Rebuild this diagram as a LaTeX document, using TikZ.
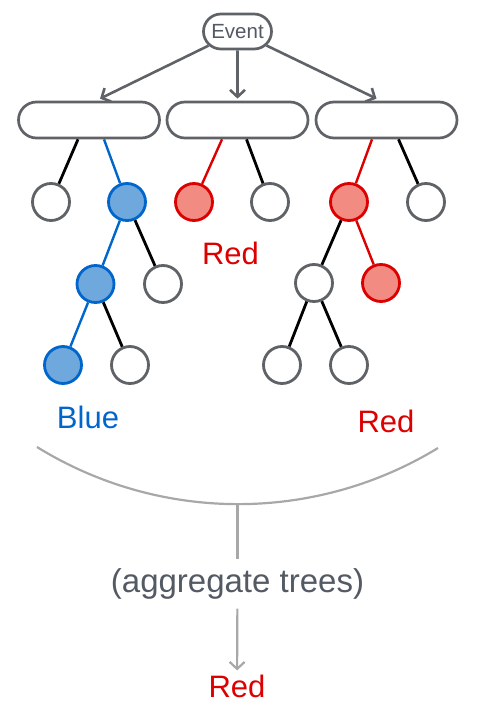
\documentclass[tikz,border=0pt]{standalone}
\usepackage{fontspec}
\setmainfont{Liberation Sans}
\usetikzlibrary{arrows.meta,calc,shapes.misc}
\definecolor{outl}{HTML}{5F6368}
\definecolor{txtgray}{HTML}{535A63}
\definecolor{bl}{HTML}{0066CC}
\definecolor{blfill}{HTML}{6FA8DC}
\definecolor{rd}{HTML}{DD0000}
\definecolor{rdfill}{HTML}{F28B82}
\definecolor{arcgray}{HTML}{A8A8A8}
\begin{document}
\begin{tikzpicture}[x=1pt,y=-1pt,
  pill/.style={rounded rectangle, draw=outl, line width=2.7pt, fill=white, minimum width=141pt, minimum height=36pt, inner sep=0pt},
  evbox/.style={rounded rectangle, draw=outl, line width=2.7pt, fill=white, minimum width=68pt, minimum height=35pt, inner sep=0pt, text=txtgray, font=\fontsize{20.5}{20.5}\selectfont},
  leaf/.style={circle, draw=outl, line width=2.8pt, fill=white, minimum size=37pt, inner sep=0pt},
  blueleaf/.style={leaf, draw=bl, fill=blfill},
  redleaf/.style={leaf, draw=rd, fill=rdfill},
  kedge/.style={draw=black, line width=2.8pt},
  bedge/.style={draw=bl, line width=2.4pt},
  redge/.style={draw=rd, line width=2.4pt},
  evarrow/.style={draw=outl, line width=2.6pt, -{Straight Barb[length=7pt,width=15pt]}},
  grayarrow/.style={draw=arcgray, line width=2.2pt, -{Straight Barb[length=7pt,width=15pt]}},
  lbl/.style={font=\fontsize{31}{31}\selectfont, inner sep=0pt}
]
\useasboundingbox (0,0) rectangle (480,717);

% event and tree roots
\node[evbox] (ev) at (237.5,31.5) {Event};
\node[pill] (b1) at (89,120) {};
\node[pill] (b2) at (237.5,120) {};
\node[pill] (b3) at (386.5,120) {};

\draw[evarrow] (ev) -- ($(b1.north)+(11,-2)$);
\draw[evarrow] (ev) -- ($(b2.north)+(0,-2)$);
\draw[evarrow] (ev) -- ($(b3.north)+(-10,-2)$);

% tree 1
\node[leaf] (t1a) at (51,202) {};
\node[blueleaf] (t1b) at (127,202) {};
\node[blueleaf] (t1c) at (95.5,284) {};
\node[leaf] (t1d) at (163,284) {};
\node[blueleaf] (t1e) at (63,365) {};
\node[leaf] (t1f) at (130,365) {};
\draw[kedge] ($(b1.south)+(-11,0)$) -- (t1a);
\draw[bedge] ($(b1.south)+(15,0)$) -- (t1b);
\draw[bedge] (t1b) -- (t1c);
\draw[kedge] (t1b) -- (t1d);
\draw[bedge] (t1c) -- (t1e);
\draw[kedge] (t1c) -- (t1f);

% tree 2
\node[redleaf] (t2a) at (194,202) {};
\node[leaf] (t2b) at (270,202) {};
\draw[redge] ($(b2.south)+(-15.5,0)$) -- (t2a);
\draw[kedge] ($(b2.south)+(9,0)$) -- (t2b);

% tree 3
\node[redleaf] (t3a) at (349,202) {};
\node[leaf] (t3b) at (426,202) {};
\node[leaf] (t3c) at (314,283) {};
\node[redleaf] (t3d) at (381,283) {};
\node[leaf] (t3e) at (282,365) {};
\node[leaf] (t3f) at (349,365) {};
\draw[redge] ($(b3.south)+(-14.5,0)$) -- (t3a);
\draw[kedge] ($(b3.south)+(12,0)$) -- (t3b);
\draw[kedge] (t3a) -- (t3c);
\draw[redge] (t3a) -- (t3d);
\draw[kedge] (t3c) -- (t3e);
\draw[kedge] (t3c) -- (t3f);

% labels
\node[lbl, text=rd] (lred2) at (230.5,253.5) {Red};
\node[lbl, text=bl] (lblue) at (88,417) {Blue};
\node[lbl, text=rd] (lred3) at (386,421.5) {Red};

% aggregation
\coordinate (arcL) at (37,447);
\coordinate (arcR) at (438,448);
\coordinate (arcB) at (237.5,504);
\draw[draw=arcgray, line width=2.2pt] (arcL) .. controls (160,523) and (315,523) .. (arcR);
\node[font=\fontsize{33}{33}\selectfont, text=txtgray, inner sep=9pt] (agg) at (237.5,584) {(aggregate trees)};
\node[lbl, text=rd, inner sep=4pt] (res) at (237,686) {Red};
\draw[draw=arcgray, line width=2.2pt] (arcB) -- (agg);
\draw[grayarrow] (agg) -- (res);
\end{tikzpicture}
\end{document}
